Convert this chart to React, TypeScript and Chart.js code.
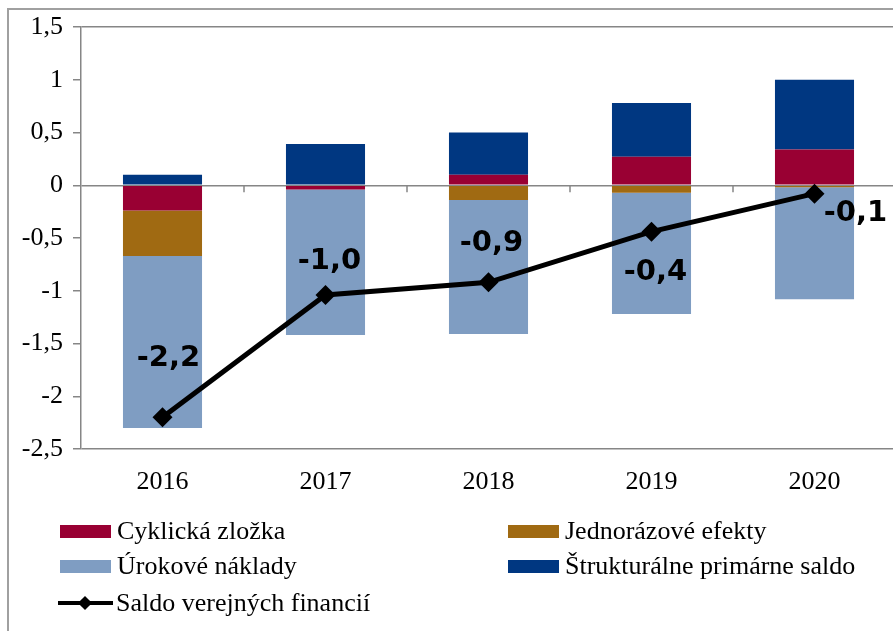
import React, { useEffect, useRef } from "react";
import { Chart, registerables } from "chart.js";

Chart.register(...registerables);

const categories = ["2016", "2017", "2018", "2019", "2020"];
const cyklicka = [-0.24, -0.04, 0.1, 0.27, 0.34];
const jednorazove = [-0.43, 0, -0.14, -0.07, -0.02];
const urokove = [-1.63, -1.38, -1.27, -1.15, -1.06];
const strukturalne = [0.1, 0.39, 0.4, 0.51, 0.66];
const saldo = [-2.2, -1.04, -0.92, -0.44, -0.08];

const seriesNames = [
  "Cyklická zložka",
  "Jednorázové efekty",
  "Úrokové náklady",
  "Štrukturálne primárne saldo",
  "Saldo verejných financií",
];
const seriesColors = ["#990033", "#A06A12", "#7F9DC2", "#003781", "#000000"];

const Y_MIN = -2.5;
const Y_MAX = 1.5;
const Y_STEP = 0.5;

const fmt = (v: number, digits?: number) =>
  (digits === undefined ? String(v) : v.toFixed(digits)).replace(".", ",");

// label offsets relative to each line point (layout only)
const labelOffsets = [
  [6, -59],
  [4, -34],
  [3, -39],
  [4, 41],
  [41, 20],
];

const GRID = "#868686";
const SERIF = '"Liberation Serif", "Times New Roman", serif';

const lineLabelsPlugin = {
  id: "lineLabels",
  afterDatasetsDraw(chart: any) {
    const ctx = chart.ctx;
    const meta = chart.getDatasetMeta(4);
    ctx.save();
    ctx.font = 'bold 29px "DejaVu Sans", sans-serif';
    ctx.fillStyle = "#000";
    ctx.textAlign = "center";
    ctx.textBaseline = "middle";
    meta.data.forEach((el: any, i: number) => {
      const [dx, dy] = labelOffsets[i];
      ctx.fillText(fmt(saldo[i], 1), el.x + dx, el.y + dy);
    });
    ctx.restore();
  },
};

const zeroTicksPlugin = {
  id: "zeroTicks",
  afterDraw(chart: any) {
    const { ctx } = chart;
    const x = chart.scales.x;
    const y = chart.scales.y;
    const y0 = y.getPixelForValue(0);
    ctx.save();
    ctx.strokeStyle = GRID;
    ctx.lineWidth = 1.5;
    for (let i = 1; i < categories.length; i++) {
      const px = (x.getPixelForValue(i - 1) + x.getPixelForValue(i)) / 2;
      ctx.beginPath();
      ctx.moveTo(px, y0);
      ctx.lineTo(px, y0 + 7);
      ctx.stroke();
    }
    ctx.restore();
  },
};

function Legend() {
  const items = [
    { i: 0, left: 60, cy: 531 },
    { i: 1, left: 508, cy: 531 },
    { i: 2, left: 60, cy: 566 },
    { i: 3, left: 508, cy: 566 },
    { i: 4, left: 58, cy: 603 },
  ];
  return (
    <>
      {items.map(({ i, left, cy }) => (
        <div
          key={i}
          style={{
            position: "absolute",
            left,
            top: cy - 17,
            height: 34,
            display: "flex",
            alignItems: "center",
            whiteSpace: "nowrap",
            font: `26px ${SERIF}`,
            color: "#000",
          }}
        >
          {i < 4 ? (
            <div
              style={{
                width: 51,
                height: 13,
                background: seriesColors[i],
                marginRight: 6,
              }}
            />
          ) : (
            <div
              style={{
                position: "relative",
                width: 55,
                height: 16,
                marginRight: 3,
              }}
            >
              <div
                style={{
                  position: "absolute",
                  left: 0,
                  top: 6,
                  width: 55,
                  height: 4,
                  background: "#000",
                }}
              />
              <div
                style={{
                  position: "absolute",
                  left: 22,
                  top: 3,
                  width: 10,
                  height: 10,
                  background: "#000",
                  transform: "rotate(45deg)",
                }}
              />
            </div>
          )}
          <span style={{ lineHeight: "34px" }}>{seriesNames[i]}</span>
        </div>
      ))}
    </>
  );
}

export default function App() {
  const ref = useRef<HTMLCanvasElement | null>(null);

  useEffect(() => {
    if (!ref.current) return;
    const barData = [cyklicka, jednorazove, urokove, strukturalne];
    const chart = new Chart(ref.current, {
      type: "bar",
      data: {
        labels: categories,
        datasets: [
          ...barData.map((d, i) => ({
            type: "bar" as const,
            label: seriesNames[i],
            data: d,
            backgroundColor: seriesColors[i],
            borderWidth: 0,
            stack: "bars",
            order: 1,
            barPercentage: 0.485,
            categoryPercentage: 1,
          })),
          {
            type: "line" as const,
            label: seriesNames[4],
            data: saldo,
            borderColor: "#000",
            backgroundColor: "#000",
            borderWidth: 5,
            pointStyle: "rectRot",
            pointRadius: 10,
            pointBackgroundColor: "#000",
            pointBorderWidth: 0,
            stack: "line",
            order: 0,
            tension: 0,
          } as any,
        ],
      },
      options: {
        responsive: false,
        animation: false,
        devicePixelRatio: 1,
        layout: { padding: { left: 0, top: 27, right: 14, bottom: 0 } },
        plugins: {
          legend: { display: false },
          tooltip: { enabled: false },
        },
        scales: {
          x: {
            stacked: true,
            offset: true,
            grid: { display: false },
            border: { display: false },
            ticks: {
              color: "#000",
              font: { family: SERIF, size: 26 },
              padding: 10,
              maxRotation: 0,
            },
            afterFit: (s: any) => {
              s.height = 182;
            },
          },
          y: {
            stacked: true,
            min: Y_MIN,
            max: Y_MAX,
            ticks: {
              stepSize: Y_STEP,
              color: "#000",
              font: { family: SERIF, size: 26 },
              padding: 10,
              callback: (v: any) => fmt(Number(v)),
            },
            grid: {
              color: (c: any) => {
                const v = c.tick ? c.tick.value : null;
                return v === 0 || v === Y_MIN || v === Y_MAX
                  ? GRID
                  : "rgba(0,0,0,0)";
              },
              tickColor: GRID,
              tickLength: 8,
              lineWidth: 1.5,
            },
            border: { display: true, color: GRID, width: 1.5 },
            afterFit: (s: any) => {
              s.width = 81;
            },
          },
        },
      },
      plugins: [lineLabelsPlugin, zeroTicksPlugin],
    });
    return () => chart.destroy();
  }, []);

  return (
    <div
      style={{
        position: "fixed",
        left: 0,
        top: 0,
        width: 893,
        height: 631,
        overflow: "hidden",
        background: "#fff",
      }}
    >
      <canvas
        ref={ref}
        width={910}
        height={631}
        style={{ position: "absolute", left: 0, top: 0, width: 910, height: 631 }}
      />
      <div
        style={{
          position: "absolute",
          left: 7,
          top: 8,
          width: 2000,
          height: 2000,
          borderLeft: "2px solid #a0a0a0",
          borderTop: "2px solid #a0a0a0",
          pointerEvents: "none",
        }}
      />
      <Legend />
    </div>
  );
}
